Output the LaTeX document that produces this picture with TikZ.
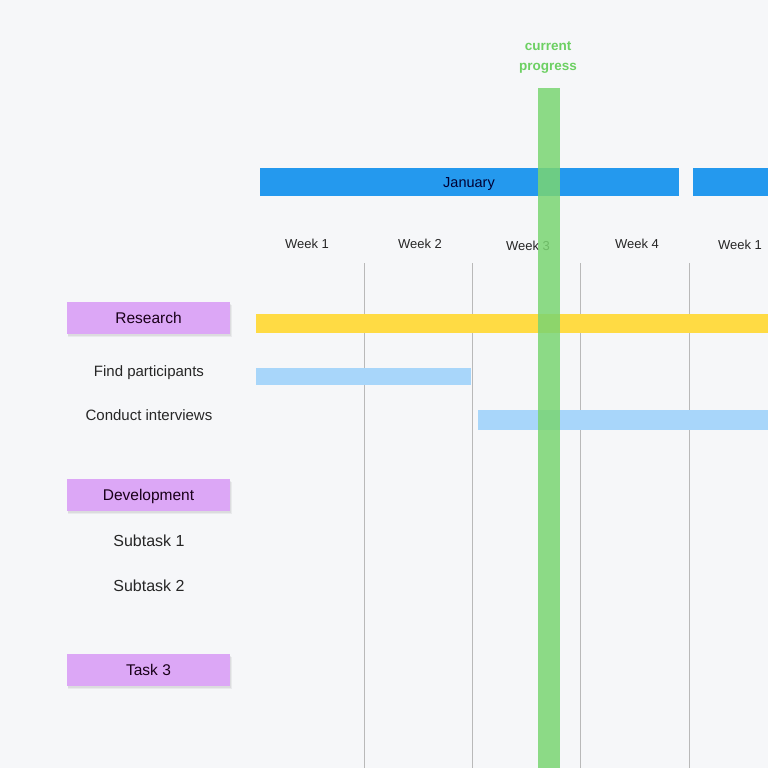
\documentclass[tikz,border=0pt]{standalone}
\usepackage{fontspec}
\setmainfont{Liberation Sans}
\begin{document}
\begin{tikzpicture}[x=1pt,y=-1pt,
  bar/.style={draw=none,inner sep=0pt,anchor=north west},
  lbl/.style={font=\fontsize{13}{15}\selectfont,text=black!85,inner sep=0pt,text height=9.5pt,text depth=2.5pt},
  sublbl/.style={font=\fontsize{16}{18}\selectfont,text=black!85,inner sep=0pt,text height=11.5pt,text depth=3pt},
  grp/.style={fill=grpcol,minimum width=163pt,minimum height=32pt,inner sep=0pt,font=\fontsize{15.5}{17}\selectfont,text=black!80!violet},
  grptext/.style={font=\fontsize{15.5}{17}\selectfont,text=black!80!violet,inner sep=0pt,text height=11pt,text depth=3pt},
  gridline/.style={draw=gray!55,line width=1pt}]
\definecolor{bg}{HTML}{F6F7F9}
\definecolor{grpcol}{HTML}{DCA7F6}
\definecolor{monthcol}{HTML}{2499EE}
\definecolor{yel}{HTML}{FFDB44}
\definecolor{lblue}{HTML}{A8D6FA}
\definecolor{prog}{HTML}{7AD572}
\definecolor{progtext}{HTML}{6CD062}
\useasboundingbox (0,0) rectangle (768,768);
\fill[bg] (0,0) rectangle (768,768);
% grid lines
\coordinate (g1t) at (364,263); \coordinate (g1b) at (364,768);
\coordinate (g2t) at (472,263); \coordinate (g2b) at (472,768);
\coordinate (g3t) at (580,263); \coordinate (g3b) at (580,768);
\coordinate (g4t) at (689,263); \coordinate (g4b) at (689,768);
\draw[gridline] (g1t) -- (g1b);
\draw[gridline] (g2t) -- (g2b);
\draw[gridline] (g3t) -- (g3b);
\draw[gridline] (g4t) -- (g4b);
% month bars
\node[bar,fill=monthcol,minimum width=419pt,minimum height=28pt] (jan) at (260,168) {};
\node[font=\fontsize{14.5}{16}\selectfont,text=black!80!blue,inner sep=0pt,text height=10.5pt,text depth=2.5pt] (janlbl) at (469,183.5) {January};
\node[bar,fill=monthcol,minimum width=75pt,minimum height=28pt] (feb) at (693,168) {};
% week labels
\node[lbl] (w1) at (307,244.5) {Week 1};
\node[lbl] (w2) at (420,244.5) {Week 2};
\node[lbl] (w3) at (528,246.5) {Week 3};
\node[lbl] (w4) at (637,244.5) {Week 4};
\node[lbl] (w5) at (740,245.5) {Week 1};
% group boxes with soft shadow
\foreach \b in {318,495,670}{
  \fill[black,opacity=0.05] (68,\b-13) rectangle (232,\b+19);
  \fill[black,opacity=0.06] (68,\b-14) rectangle (231,\b+18);
}
\node[grp] (research) at (148.5,318) {};
\node[grptext] (researchlbl) at (148.5,319.5) {Research};
\node[grp] (dev) at (148.5,495) {};
\node[grptext] (devlbl) at (148.5,496.5) {Development};
\node[grp] (task3) at (148.5,670) {};
\node[grptext] (task3lbl) at (148.5,671.5) {Task 3};
% task labels
\node[lbl,font=\fontsize{15}{17}\selectfont,text height=10.5pt,text depth=3pt] (fp) at (149,372.5) {Find participants};
\node[lbl,font=\fontsize{15}{17}\selectfont,text height=10.5pt,text depth=3pt] (ci) at (149,416.5) {Conduct interviews};
\node[sublbl] (s1) at (149,542.5) {Subtask 1};
\node[sublbl] (s2) at (149,587.5) {Subtask 2};
% bars
\node[bar,fill=yel,minimum width=512pt,minimum height=19pt] (resbar) at (256,314) {};
\node[bar,fill=lblue,minimum width=215pt,minimum height=17pt] (fpbar) at (256,368) {};
\node[bar,fill=lblue,minimum width=290pt,minimum height=20pt] (cibar) at (478,410) {};
% current progress
\node[bar,fill=prog,fill opacity=0.85,minimum width=22pt,minimum height=680pt] (progbar) at (538,88) {};
\node[font=\bfseries\fontsize{13.5}{20}\selectfont,text=progtext,align=center,inner sep=0pt] (proglbl) at (548,57.5) {current\\progress};
\end{tikzpicture}
\end{document}
